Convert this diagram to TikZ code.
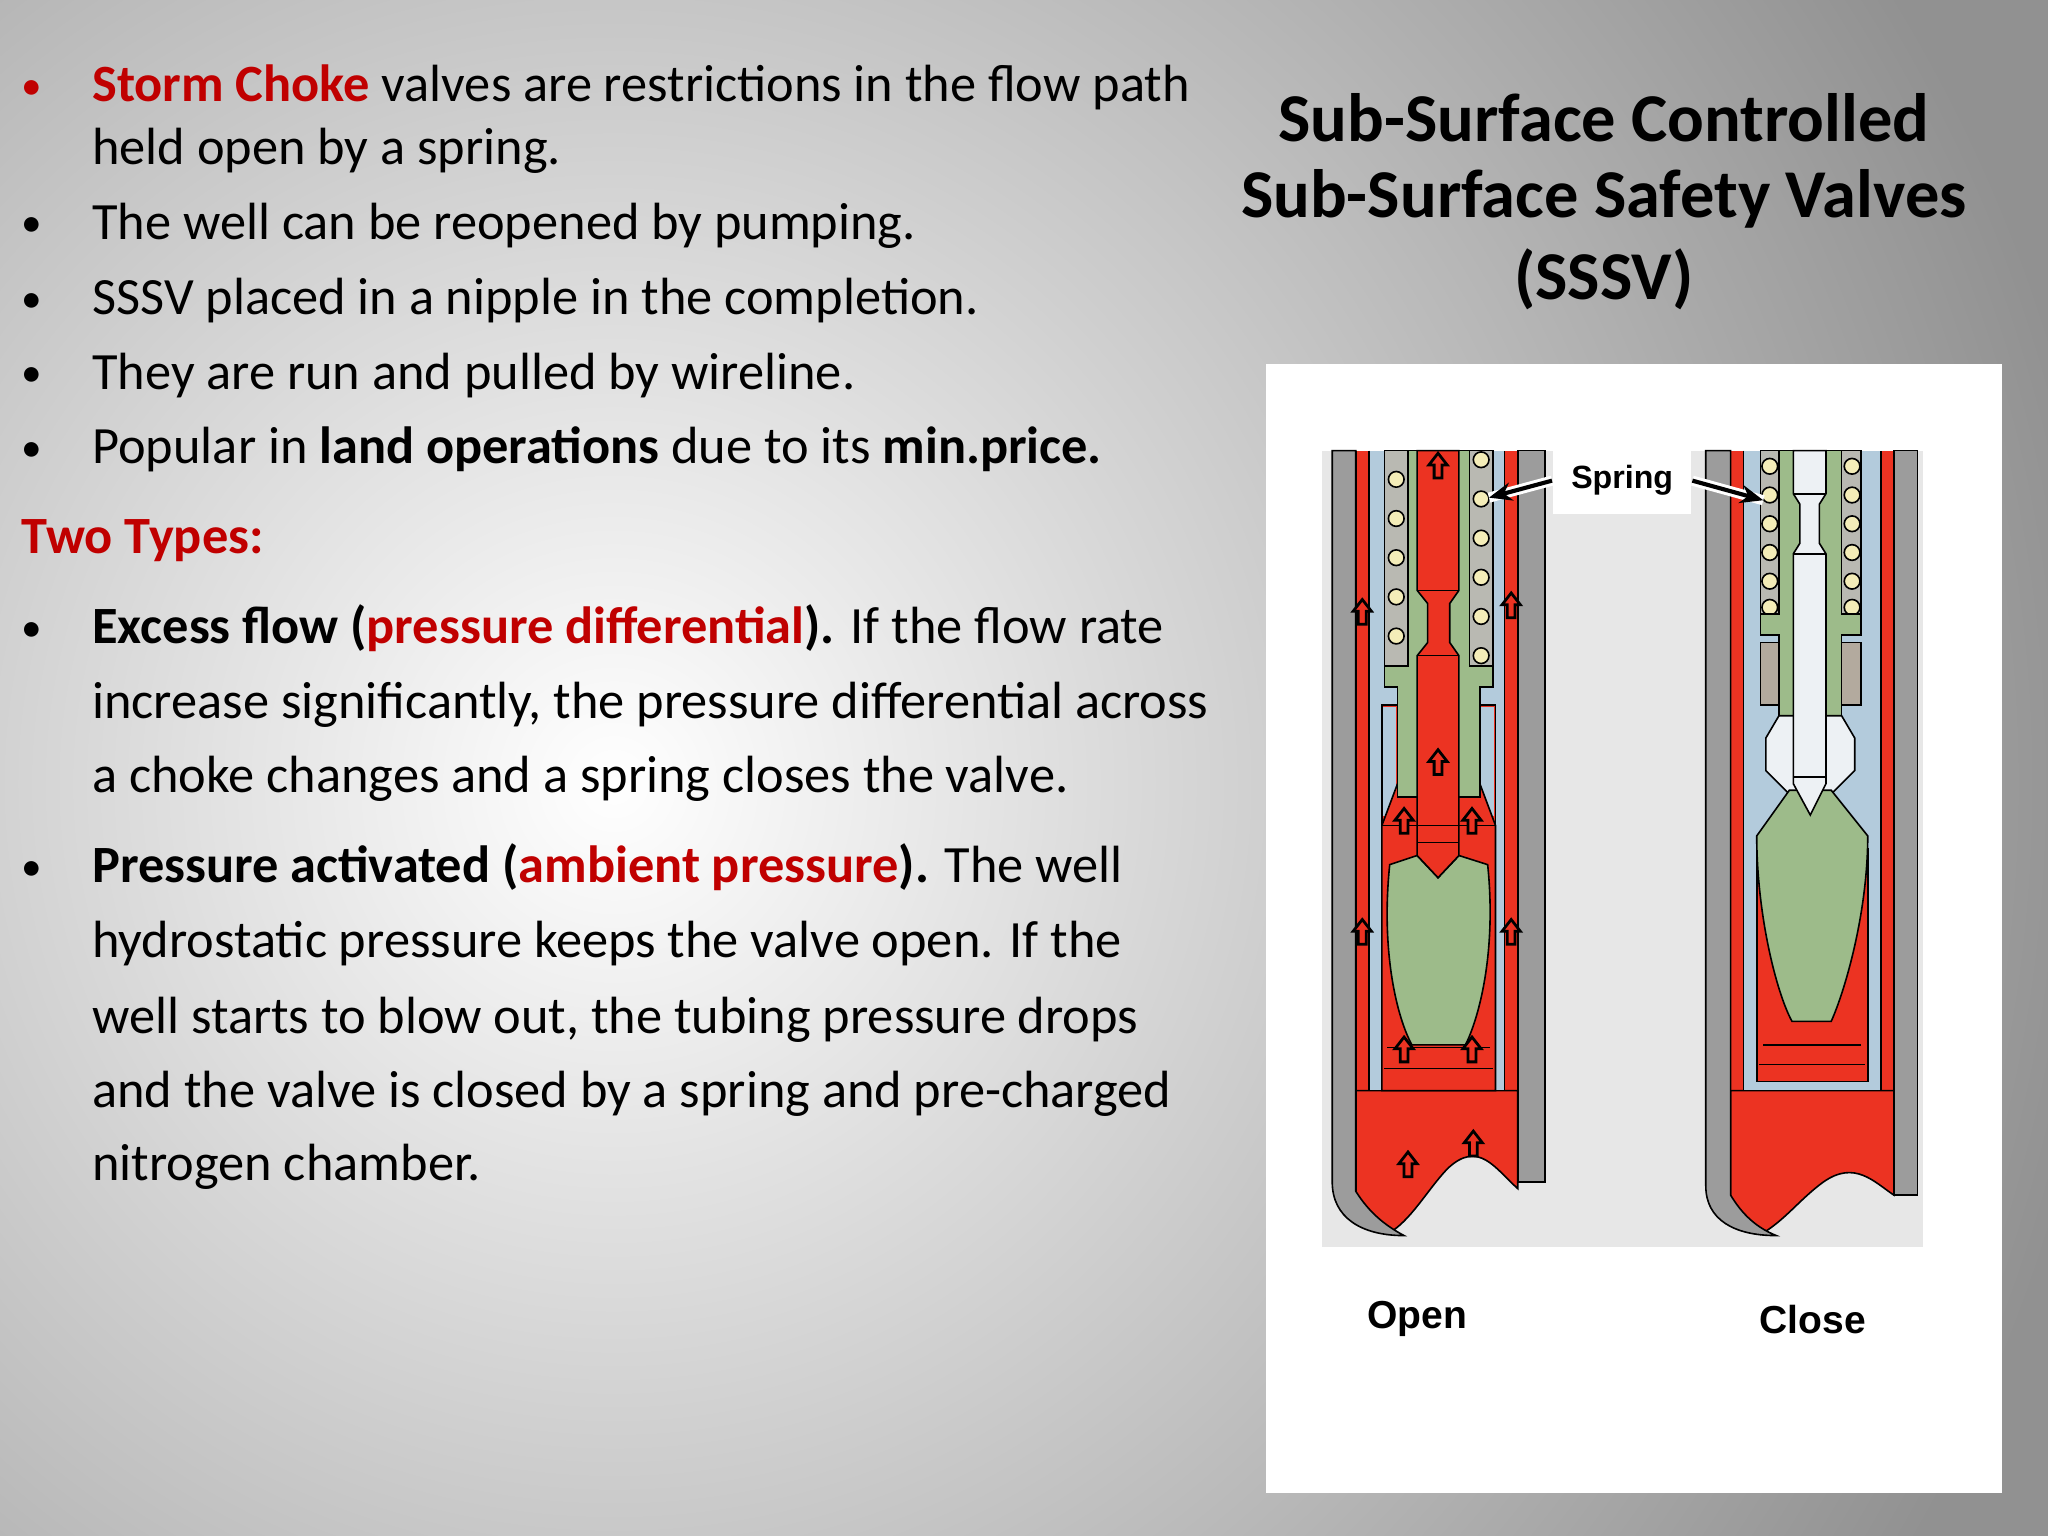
\documentclass[tikz,border=0pt]{standalone}
\usepackage{fontspec}
\setmainfont{Carlito}
\newfontfamily\arialf{Liberation Sans}
\usetikzlibrary{arrows.meta}
\definecolor{tred}{HTML}{C00000}
\definecolor{vred}{HTML}{EC3322}
\definecolor{vgreen}{HTML}{9DBB8A}
\definecolor{vblue}{HTML}{B3CBDC}
\definecolor{vgray}{HTML}{9C9C9C}
\definecolor{vyel}{HTML}{F4EDB8}
\definecolor{sgray}{HTML}{B9B9B2}
\definecolor{vbrown}{HTML}{B3AA9E}
\definecolor{imgbg}{HTML}{E7E7E7}
\definecolor{vwhite}{HTML}{EDF1F4}
\tikzset{
 txt/.style={anchor=base west,inner sep=0pt,font=\fontsize{11.4}{13}\selectfont},
 bul/.style={anchor=base west,inner sep=0pt,font=\fontsize{9}{12}\selectfont},
 ttl/.style={anchor=center,inner sep=0pt,font=\fontsize{14.9}{17}\selectfont\bfseries},
 lbl/.style={inner sep=0pt,font=\arialf\fontsize{8.5}{10}\selectfont\bfseries},
 lbls/.style={inner sep=0pt,font=\arialf\fontsize{7}{8}\selectfont\bfseries},
 part/.style={draw=black,line width=0.35pt},
 flowarr/.pic={\filldraw[fill=vred,draw=black,line width=0.6pt] (0,-11)--(7,-2)--(3,-2)--(3,8)--(-3,8)--(-3,-2)--(-7,-2)--cycle;}
}
\begin{document}
\begin{tikzpicture}[x=0.01cm,y=-0.01cm]
\useasboundingbox (0,0) rectangle (1568,1176);
\begin{scope}
\clip (0,0) rectangle (1568,1176);
\fill[black!43] (0,0) rectangle (1568,1176);
\shade[inner color=white,outer color=black!43] (470,600) circle (1150);
\end{scope}
% ---- left text
\node[bul,text=tred] (b1) at (16,76) {•};
\node[txt] (t1) at (70,78) {\textcolor{tred}{\bfseries Storm Choke} valves are restrictions in the flow path};
\node[txt] (t1b) at (70,126) {held open by a spring.};
\node[bul] (b2) at (16,181) {•};
\node[txt] (t2) at (70,183) {The well can be reopened by pumping.};
\node[bul] (b3) at (16,239) {•};
\node[txt] (t3) at (70,241) {SSSV placed in a nipple in the completion.};
\node[bul] (b4) at (16,296) {•};
\node[txt] (t4) at (70,298) {They are run and pulled by wireline.};
\node[bul] (b5) at (16,353) {•};
\node[txt] (t5) at (70,355) {Popular in \textbf{land operations} due to its \textbf{min.price.}};
\node[txt,text=tred] (tt) at (16,424) {\bfseries Two Types:};
\node[bul] (b6) at (16,491) {•};
\node[txt] (t6) at (70,493) {\textbf{Excess flow (\textcolor{tred}{pressure differential}).} If the flow rate};
\node[txt] (t6b) at (70,550) {increase significantly, the pressure differential across};
\node[txt] (t6c) at (70,607) {a choke changes and a spring closes the valve.};
\node[bul] (b7) at (16,674) {•};
\node[txt] (t7) at (70,676) {\textbf{Pressure activated (\textcolor{tred}{ambient pressure}).} The well};
\node[txt] (t7b) at (70,733) {hydrostatic pressure keeps the valve open. If the};
\node[txt] (t7c) at (70,791) {well starts to blow out, the tubing pressure drops};
\node[txt] (t7d) at (70,848) {and the valve is closed by a spring and pre-charged};
\node[txt] (t7e) at (70,904) {nitrogen chamber.};
% ---- title
\node[ttl] (h1) at (1228,90) {Sub-Surface Controlled};
\node[ttl] (h2) at (1228,152) {Sub-Surface Safety Valves};
\node[ttl] (h3) at (1228,214) {(SSSV)};
% ---- picture frame
\fill[white] (969,279) rectangle (1533,1143);
\fill[imgbg] (1012,345) rectangle (1472,955);
% ===== OPEN valve
\fill[vred] (1038,345) rectangle (1162,840);
\filldraw[part,fill=vred] (1038,835) -- (1162,835) -- (1162,910) .. controls (1145,895) and (1132,872) .. (1108,895) .. controls (1092,912) and (1080,935) .. (1062,945) -- (1038,915) -- cycle;
\filldraw[part,fill=vgray] (1020,345) -- (1038,345) -- (1038,912) .. controls (1048,928) and (1060,938) .. (1075,946) .. controls (1042,946) and (1020,932) .. (1020,905) -- cycle;
\filldraw[part,fill=vgray] (1162,345) rectangle (1183,905);
\draw[part] (1038,345) -- (1038,912);
\filldraw[part,fill=vblue] (1048,345) -- (1048,835) -- (1152,835) -- (1152,345);
\filldraw[part,fill=vred] (1058,540) rectangle (1145,835);
\fill[vblue] (1059,541) rectangle (1069,625);
\fill[vblue] (1134,541) rectangle (1144,625);
\filldraw[part,fill=vred] (1070,600) -- (1133,600) -- (1145,632) -- (1145,835) -- (1058,835) -- (1058,632) -- cycle;
\filldraw[part,fill=sgray] (1060,345) rectangle (1078,512);
\filldraw[part,fill=sgray] (1125,345) rectangle (1143,512);
\foreach \yy in {367,397,427,457,487} \filldraw[part,fill=vyel] (1069,\yy) circle (6);
\foreach \yy in {352,382,412,442,472,502} \filldraw[part,fill=vyel] (1134,\yy) circle (6);
\filldraw[part,fill=vgreen] (1078,345)--(1125,345)--(1125,510)--(1143,510)--(1143,526)--(1133,526)--(1133,610)--(1070,610)--(1070,526)--(1060,526)--(1060,510)--(1078,510)--cycle;
\filldraw[part,fill=vgreen] (1064,662) -- (1085,655) -- (1101,672) -- (1117,655) -- (1139,662) .. controls (1146,730) and (1132,780) .. (1122,800) -- (1081,800) .. controls (1070,780) and (1057,730) .. (1064,662) -- cycle;
\filldraw[part,fill=vred] (1085,345)--(1117,345)--(1117,452)--(1110,462)--(1110,492)--(1117,502)--(1117,655)--(1101,672)--(1085,655)--(1085,502)--(1093,492)--(1093,462)--(1085,452)--cycle;
\draw[part] (1085,452)--(1117,452) (1085,502)--(1117,502) (1085,645)--(1117,645);
\draw[part] (1058,632)--(1145,632) (1062,802)--(1141,802) (1060,818)--(1143,818);
\foreach \px/\py in {1043/470,1043/715,1157/465,1157/715,1101/585,1101/358,1075/630,1127/630,1075/805,1127/805,1078/893,1128/877}
 \pic at (\px,\py) {flowarr};
% ===== CLOSE valve
\fill[vred] (1325,345) rectangle (1450,840);
\filldraw[part,fill=vred] (1325,835) -- (1450,835) -- (1450,915) .. controls (1435,905) and (1420,888) .. (1396,905) .. controls (1378,918) and (1366,935) .. (1348,945) -- (1325,918) -- cycle;
\filldraw[part,fill=vgray] (1306,345) -- (1325,345) -- (1325,915) .. controls (1334,930) and (1345,940) .. (1360,946) .. controls (1328,946) and (1306,934) .. (1306,908) -- cycle;
\filldraw[part,fill=vgray] (1450,345) rectangle (1468,915);
\filldraw[part,fill=vblue] (1335,345) -- (1335,835) -- (1440,835) -- (1440,345);
\filldraw[part,fill=vred] (1345,650) rectangle (1430,828);
\filldraw[part,fill=sgray] (1348,345) rectangle (1362,472);
\filldraw[part,fill=sgray] (1410,345) rectangle (1425,472);
\foreach \yy in {357,379,401,423,445,465} \filldraw[part,fill=vyel] (1355,\yy) circle (6);
\foreach \yy in {357,379,401,423,445,465} \filldraw[part,fill=vyel] (1418,\yy) circle (6);
\filldraw[part,fill=vgreen] (1362,345)--(1410,345)--(1410,470)--(1425,470)--(1425,486)--(1410,486)--(1410,575)--(1362,575)--(1362,486)--(1348,486)--(1348,470)--(1362,470)--cycle;
\filldraw[part,fill=vbrown] (1348,492) rectangle (1362,540);
\filldraw[part,fill=vbrown] (1410,492) rectangle (1425,540);
\filldraw[part,fill=vwhite] (1362,548) -- (1410,548) -- (1420,565) -- (1420,590) -- (1402,608) -- (1370,608) -- (1352,590) -- (1352,565) -- cycle;
\filldraw[part,fill=vgreen] (1370,605) -- (1402,605) -- (1430,640) .. controls (1430,700) and (1412,760) .. (1402,782) -- (1372,782) .. controls (1360,760) and (1345,700) .. (1345,640) -- cycle;
\filldraw[part,fill=vwhite] (1373,345)--(1398,345)--(1398,378)--(1393,386)--(1393,416)--(1398,424)--(1398,600)--(1386,624)--(1373,600)--(1373,424)--(1378,416)--(1378,386)--(1373,378)--cycle;
\draw[part] (1373,378)--(1398,378) (1373,424)--(1398,424) (1373,595)--(1398,595);
\draw[part] (1350,800)--(1425,800) (1347,815)--(1428,815);
% ---- labels
\node[lbls,fill=white,inner xsep=4pt,inner ysep=4pt] (sp) at (1242,368) {Spring};
\coordinate (spL) at (1140,381);
\coordinate (spR) at (1350,383);
\draw[white,line width=2.2pt] (sp.west) -- (spL);
\draw[white,line width=2.2pt] (sp.east) -- (spR);
\draw[-{Stealth[length=5pt,width=4pt]},line width=0.9pt] (sp.west) -- (spL);
\draw[-{Stealth[length=5pt,width=4pt]},line width=0.9pt] (sp.east) -- (spR);
\node[lbl] (op) at (1085,1010) {Open};
\node[lbl] (cl) at (1388,1010) {Close};
\end{tikzpicture}
\end{document}
